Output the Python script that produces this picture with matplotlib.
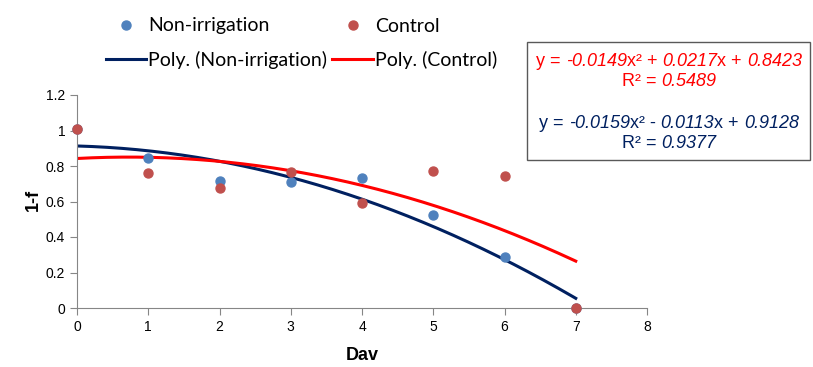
import numpy as np
import matplotlib
matplotlib.use("Agg")
from matplotlib import pyplot as plt
from matplotlib.patches import Rectangle
from matplotlib.lines import Line2D

plt.rcParams['font.family'] = ['Liberation Sans', 'DejaVu Sans']

# data
dav = [0, 1, 2, 3, 4, 5, 6, 7]
non_irrigation = [1.01, 0.845, 0.715, 0.71, 0.73, 0.524, 0.29, 0.0]
control = [1.01, 0.76, 0.675, 0.768, 0.59, 0.77, 0.745, 0.0]

# trendline coefficients shown in the chart (a, b, c)
coef_non = [-0.0159, -0.0113, 0.9128]
coef_ctrl = [-0.0149, 0.0217, 0.8423]
r2_non = 0.9377
r2_ctrl = 0.5489

blue_pt = '#4F81BD'
red_pt = '#C0504D'
blue_ln = '#002060'
red_ln = '#FF0000'

fig = plt.figure(figsize=(8.13, 3.67), dpi=100)
ax = fig.add_axes([77/813, 1-308/367, (647-77)/813, (308-95)/367])

xs = np.linspace(min(dav), max(dav), 200)
ax.plot(xs, np.polyval(coef_non, xs), color=blue_ln, lw=2.2, zorder=2)
ax.plot(xs, np.polyval(coef_ctrl, xs), color=red_ln, lw=2.2, zorder=2)
ax.scatter(dav, non_irrigation, s=42, color=blue_pt, zorder=3, clip_on=False)
ax.scatter(dav, control, s=42, color=red_pt, zorder=4, clip_on=False)

ax.set_xlim(0, 8)
ax.set_ylim(0, 1.2)
ax.set_xticks(range(0, 9))
ax.set_yticks([0, 0.2, 0.4, 0.6, 0.8, 1.0, 1.2])
ax.set_yticklabels(['0', '0.2', '0.4', '0.6', '0.8', '1', '1.2'])
for s in ['top', 'right']:
    ax.spines[s].set_visible(False)
for s in ['left', 'bottom']:
    ax.spines[s].set_color('#868686')
ax.tick_params(direction='out', length=5, color='#868686', labelsize=10)

fig.text(33/813, 1-200/367, '1-f', rotation=90, fontsize=13, fontweight='bold',
         ha='center', va='center')
fig.text(362/813, 1-355/367, 'Dav', fontsize=13, fontweight='bold',
         ha='center', va='center')

handles = [
    Line2D([], [], ls='none', marker='o', ms=6.5, color=blue_pt),
    Line2D([], [], color=blue_ln, lw=2.2),
    Line2D([], [], ls='none', marker='o', ms=6.5, color=red_pt),
    Line2D([], [], color=red_ln, lw=2.2),
]
labels = ['Non-irrigation', 'Poly. (Non-irrigation)', 'Control', 'Poly. (Control)']
fig.legend(handles, labels, ncol=2, loc='upper left', bbox_to_anchor=(88/813, 1.0),
           frameon=False, prop={'family': 'Lato', 'size': 14}, handlelength=2.1,
           handletextpad=0.1, columnspacing=0.25, labelspacing=0.85)

# equation box
fig.patches.append(Rectangle((527/813, 1-160/367), (810-527)/813, (160-42)/367,
                             transform=fig.transFigure, fill=False,
                             edgecolor='#595959', lw=1))


def eq_pieces(coef):
    a, b, c = coef
    sb = '+' if b >= 0 else '-'
    return [('y = ', 'normal'), ('%.4f' % a, 'italic'), ('x² %s ' % sb, 'normal'),
            ('%.4f' % abs(b), 'italic'), ('x + ', 'normal'), ('%.4f' % c, 'italic')]


def r2_pieces(r2):
    return [('R² = ', 'normal'), ('%.4f' % r2, 'italic')]


renderer = fig.canvas.get_renderer()


def centered_line(pieces, cx, cy, color, size=13):
    texts = []
    for s, style in pieces:
        texts.append(fig.text(0, cy, s, color=color, fontsize=size, style=style,
                              ha='left', va='center'))
    widths = [t.get_window_extent(renderer).width / fig.bbox.width for t in texts]
    x = cx - sum(widths) / 2
    for t, w in zip(texts, widths):
        t.set_x(x)
        x += w


cx = 669/813
centered_line(eq_pieces(coef_ctrl), cx, 1-61/367, red_ln)
centered_line(r2_pieces(r2_ctrl), cx, 1-81/367, red_ln)
centered_line(eq_pieces(coef_non), cx, 1-124/367, blue_ln)
centered_line(r2_pieces(r2_non), cx, 1-144/367, blue_ln)

fig.savefig('out.png', dpi=100)
